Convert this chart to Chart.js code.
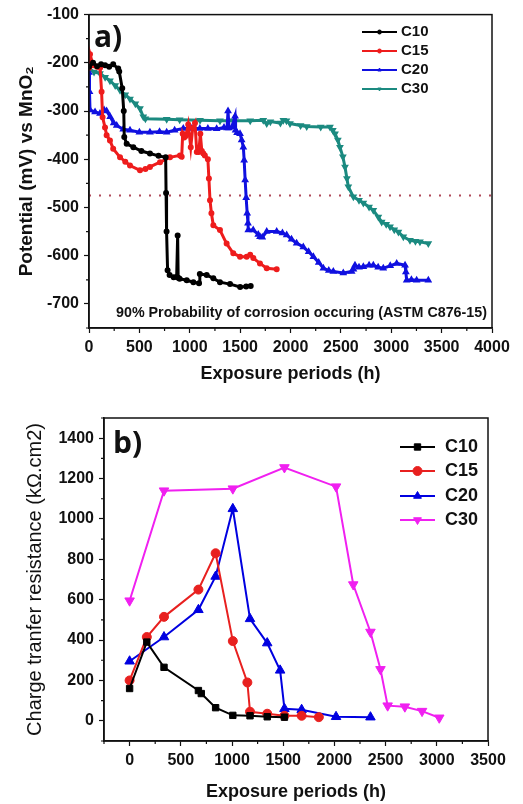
<!DOCTYPE html>
<html>
<head>
<meta charset="utf-8">
<script src="https://cdn.jsdelivr.net/npm/chart.js@4"></script>
<style>
  body { margin: 0; background: #fff; }
  canvas { position: absolute; left: 0; }
  #potentialChart { top: 0; }
  #resistanceChart { top: 400px; }
</style>
</head>
<body>
<canvas id="potentialChart" width="523" height="390"></canvas>
<canvas id="resistanceChart" width="523" height="404"></canvas>
<script>
// ---- a) potential vs time ----
const hoursC10 = [0, 40, 80, 120, 160, 200, 240, 290, 300, 330, 345, 350, 374, 440, 520, 605, 690, 761, 765, 770, 780, 800, 840, 870, 880, 885, 900, 970, 1036, 1092, 1100, 1168, 1234, 1300, 1400, 1500, 1560, 1605];
const mvC10 = [-208, -200, -207, -203, -205, -208, -203, -212, -218, -253, -300, -354, -368, -375, -383, -388, -393, -396, -470, -550, -630, -640, -645, -644, -558, -646, -648, -651, -655, -657, -638, -640, -647, -655, -659, -665, -664, -663];

const hoursC15 = [0, 10, 40, 80, 110, 125, 135, 159, 175, 208, 240, 308, 360, 407, 506, 560, 605, 705, 804, 903, 920, 930, 945, 960, 985, 1010, 1030, 1052, 1070, 1090, 1105, 1120, 1135, 1150, 1180, 1190, 1201, 1215, 1234, 1300, 1366, 1432, 1499, 1565, 1600, 1631, 1697, 1764, 1863];
const mvC15 = [-210, -182, -205, -208, -210, -260, -313, -334, -350, -361, -378, -396, -405, -413, -423, -420, -416, -406, -396, -392, -395, -347, -355, -352, -328, -375, -335, -325, -385, -385, -347, -383, -388, -392, -400, -440, -485, -512, -537, -547, -575, -595, -602, -602, -598, -605, -616, -626, -628];

const hoursC20 = [0, 5, 10, 60, 109, 150, 175, 210, 245, 275, 340, 407, 500, 605, 700, 771, 850, 936, 1020, 1100, 1180, 1267, 1340, 1370, 1380, 1390, 1420, 1450, 1455, 1470, 1499, 1515, 1532, 1540, 1550, 1560, 1570, 1578, 1581, 1630, 1680, 1697, 1720, 1764, 1863, 1920, 1962, 2010, 2061, 2127, 2180, 2227, 2280, 2326, 2380, 2425, 2524, 2607, 2625, 2640, 2680, 2723, 2780, 2822, 2870, 2921, 2990, 3054, 3137, 3145, 3153, 3200, 3252, 3368];
const mvC20 = [-220, -260, -298, -302, -305, -298, -300, -312, -325, -330, -338, -340, -344, -344, -343, -344, -340, -336, -336, -336, -336, -337, -334, -335, -300, -335, -333, -311, -340, -345, -347, -360, -375, -402, -443, -480, -512, -533, -547, -547, -556, -561, -562, -550, -550, -553, -557, -566, -574, -582, -592, -602, -614, -626, -631, -633, -636, -633, -628, -620, -624, -623, -620, -620, -624, -626, -621, -616, -620, -634, -651, -650, -651, -651];

const hoursC30 = [0, 50, 109, 160, 208, 260, 308, 360, 407, 460, 506, 539, 560, 771, 900, 1102, 1300, 1432, 1600, 1730, 1764, 1800, 1900, 1929, 1960, 1995, 2100, 2161, 2300, 2392, 2420, 2442, 2470, 2491, 2520, 2541, 2560, 2574, 2624, 2680, 2723, 2780, 2822, 2872, 2905, 2950, 2988, 3030, 3071, 3120, 3186, 3240, 3285, 3368];
const mvC30 = [-212, -219, -222, -230, -237, -247, -257, -266, -275, -285, -295, -312, -316, -317, -318, -319, -320, -320, -320, -319, -326, -322, -325, -319, -320, -326, -330, -332, -333, -333, -340, -347, -360, -375, -395, -416, -440, -457, -478, -485, -491, -499, -506, -520, -530, -535, -540, -546, -551, -561, -568, -570, -571, -575];

const thresholdMV = -475;   // 90% probability of corrosion

// ---- b) charge transfer resistance ----
const hoursRC10 = [0, 168, 336, 672, 700, 840, 1008, 1176, 1344, 1512];
const rctC10 = [160, 390, 265, 150, 135, 65, 27, 25, 20, 18];
const hoursRC15 = [0, 168, 336, 672, 840, 1008, 1150, 1176, 1344, 1512, 1680, 1848];
const rctC15 = [200, 415, 515, 650, 830, 395, 190, 45, 35, 25, 25, 18];
const hoursRC20 = [0, 336, 672, 840, 1008, 1176, 1344, 1470, 1512, 1680, 2016, 2352];
const rctC20 = [295, 415, 550, 715, 1050, 505, 385, 250, 60, 55, 20, 18];
const hoursRC30 = [0, 336, 1008, 1512, 2016, 2184, 2352, 2450, 2520, 2688, 2856, 3024];
const rctC30 = [595, 1140, 1150, 1255, 1160, 675, 440, 255, 75, 70, 48, 15];

const FONT = "'Liberation Sans', Arial, sans-serif";
Chart.defaults.font.family = FONT;
Chart.defaults.color = '#111';

const pts = (xs, ys) => xs.map((x, i) => ({ x: x, y: ys[i] }));

// box around the plot + short minor ticks
function framePlugin() {
  return {
    id: 'frame',
    afterDraw(chart) {
      const a = chart.chartArea, ctx = chart.ctx;
      ctx.save();
      ctx.strokeStyle = '#111';
      ctx.lineWidth = 1.5;
      ctx.strokeRect(a.left, a.top, a.right - a.left, a.bottom - a.top);
      ctx.lineWidth = 1.2;
      ctx.beginPath();
      chart.scales.x.ticks.forEach(t => {
        if (t.label !== '') return;
        const p = chart.scales.x.getPixelForValue(t.value);
        ctx.moveTo(p, a.bottom); ctx.lineTo(p, a.bottom + 3);
      });
      chart.scales.y.ticks.forEach(t => {
        if (t.label !== '') return;
        const p = chart.scales.y.getPixelForValue(t.value);
        ctx.moveTo(a.left - 3, p); ctx.lineTo(a.left, p);
      });
      ctx.stroke();
      ctx.restore();
    }
  };
}

function legendPlugin(x0, x1, textX, rows, font, markerR) {
  return {
    id: 'boxLegend',
    afterDraw(chart) {
      const ctx = chart.ctx;
      ctx.save();
      chart.data.datasets.forEach((ds, i) => {
        if (!ds.label) return;
        const y = rows[i];
        ctx.strokeStyle = ds.borderColor;
        ctx.lineWidth = 2;
        ctx.beginPath(); ctx.moveTo(x0, y); ctx.lineTo(x1, y); ctx.stroke();
        ctx.fillStyle = ds.borderColor;
        ctx.lineWidth = 1;
        Chart.helpers.drawPoint(ctx, { pointStyle: ds.pointStyle, radius: markerR, rotation: ds.rotation || 0, borderWidth: 1 }, (x0 + x1) / 2, y);
        ctx.fillStyle = '#111';
        ctx.font = font;
        ctx.textBaseline = 'middle';
        ctx.textAlign = 'left';
        ctx.fillText(ds.label, textX, y);
      });
      ctx.restore();
    }
  };
}

function textPlugin(items) {
  return {
    id: 'texts',
    afterDraw(chart) {
      const ctx = chart.ctx, a = chart.chartArea;
      ctx.save();
      ctx.fillStyle = '#111';
      ctx.textBaseline = 'middle';
      ctx.textAlign = 'left';
      items.forEach(t => {
        ctx.font = t.font;
        ctx.fillText(t.text, a.left + t.dx, t.fromBottom ? a.bottom - t.dy : a.top + t.dy);
      });
      ctx.restore();
    }
  };
}

function axis(min, max, step, labelEvery, extra) {
  return Object.assign({
    type: 'linear',
    min: min, max: max,
    border: { display: true, color: '#111', width: 1.5 },
    grid: {
      drawOnChartArea: false, tickLength: 5, tickWidth: 1.2,
      tickColor: c => (c.tick && c.tick.label === '' ? 'rgba(0,0,0,0)' : '#111')
    },
    ticks: {
      stepSize: step, autoSkip: false, maxRotation: 0, padding: 5,
      font: { size: 16, weight: 'bold' }, color: '#111',
      callback: v => (v % labelEvery === 0 ? v : '')
    }
  }, extra);
}

// a) potential chart
new Chart(document.getElementById('potentialChart'), {
  type: 'line',
  data: {
    datasets: [
      { label: 'C10', data: pts(hoursC10, mvC10), borderColor: '#000000', pointStyle: 'circle' },
      { label: 'C15', data: pts(hoursC15, mvC15), borderColor: '#ee1c1c', pointStyle: 'circle' },
      { label: 'C20', data: pts(hoursC20, mvC20), borderColor: '#1010e0', pointStyle: 'triangle' },
      { label: 'C30', data: pts(hoursC30, mvC30), borderColor: '#1b8a80', pointStyle: 'triangle', rotation: 180 },
      { data: [{ x: 0, y: thresholdMV }, { x: 4000, y: thresholdMV }], borderColor: '#b04a5a',
        borderWidth: 2, borderDash: [2, 8], pointRadius: 0 }
    ].map(d => Object.assign({ borderWidth: 3, pointRadius: 1.5, pointBackgroundColor: d.borderColor, tension: 0, fill: false }, d))
  },
  options: {
    responsive: false,
    devicePixelRatio: 1,
    animation: false,
    layout: { padding: { left: 0, right: 31, top: 14, bottom: 5 } },
    plugins: { legend: { display: false }, tooltip: { enabled: false } },
    scales: {
      x: axis(0, 4000, 250, 500, {
        afterFit: s => { s.height = 57; },
        title: { display: true, text: 'Exposure periods (h)', font: { size: 18, weight: 'bold' }, color: '#111', padding: { top: 0, bottom: 0 } }
      }),
      y: axis(-750, -100, 50, 100, {
        afterFit: s => { s.width = 89; },
        title: { display: true, text: 'Potential (mV) vs MnO\u2082', font: { size: 19, weight: 'bold' }, color: '#111', padding: { top: 15, bottom: 0 } }
      })
    }
  },
  plugins: [
    framePlugin(),
    legendPlugin(362, 397, 401, [32, 51, 70, 89], "bold 15px " + FONT, 2),
    textPlugin([
      { text: 'a)', font: "bold 30px 'Open Sans', sans-serif", dx: 5, dy: 24 },
      { text: '90% Probability of corrosion occuring (ASTM C876-15)', font: "bold 14.3px " + FONT, dx: 27, dy: 15, fromBottom: true }
    ])
  ]
});

// b) charge transfer resistance chart
new Chart(document.getElementById('resistanceChart'), {
  type: 'line',
  data: {
    datasets: [
      { label: 'C10', data: pts(hoursRC10, rctC10), borderColor: '#000000', pointStyle: 'rect', pointRadius: 4.5 },
      { label: 'C15', data: pts(hoursRC15, rctC15), borderColor: '#e8201f', pointStyle: 'circle', pointRadius: 4.5 },
      { label: 'C20', data: pts(hoursRC20, rctC20), borderColor: '#0000e0', pointStyle: 'triangle', pointRadius: 5.5 },
      { label: 'C30', data: pts(hoursRC30, rctC30), borderColor: '#f020f0', pointStyle: 'triangle', rotation: 180, pointRadius: 5.5 }
    ].map(d => Object.assign({ borderWidth: 2, pointBackgroundColor: d.borderColor, pointBorderWidth: 1, tension: 0, fill: false }, d))
  },
  options: {
    responsive: false,
    devicePixelRatio: 1,
    animation: false,
    layout: { padding: { left: 0, right: 35, top: 18, bottom: 0 } },
    plugins: { legend: { display: false }, tooltip: { enabled: false } },
    scales: {
      x: axis(-250, 3500, 250, 500, {
        afterFit: s => { s.height = 63; },
        title: { display: true, text: 'Exposure periods (h)', font: { size: 18, weight: 'bold' }, color: '#111', padding: { top: 0, bottom: 1 } }
      }),
      y: axis(-100, 1500, 100, 200, {
        afterFit: s => { s.width = 104; },
        ticks: {
          stepSize: 100, autoSkip: false, padding: 5,
          font: { size: 16, weight: 'bold' }, color: '#111',
          callback: v => (v % 200 === 0 && v <= 1400 && v >= 0 ? v : '')
        },
        title: { display: true, text: 'Charge tranfer resistance (k\u03A9.cm2)', font: { size: 20 }, color: '#111', padding: { top: 23, bottom: 0 } }
      })
    }
  },
  plugins: [
    framePlugin(),
    legendPlugin(400, 435, 445, [47, 71, 96, 120], "bold 18px " + FONT, 4.5),
    textPlugin([
      { text: 'b)', font: "bold 30px 'Open Sans', sans-serif", dx: 9, dy: 26 }
    ])
  ]
});
</script>
</body>
</html>
